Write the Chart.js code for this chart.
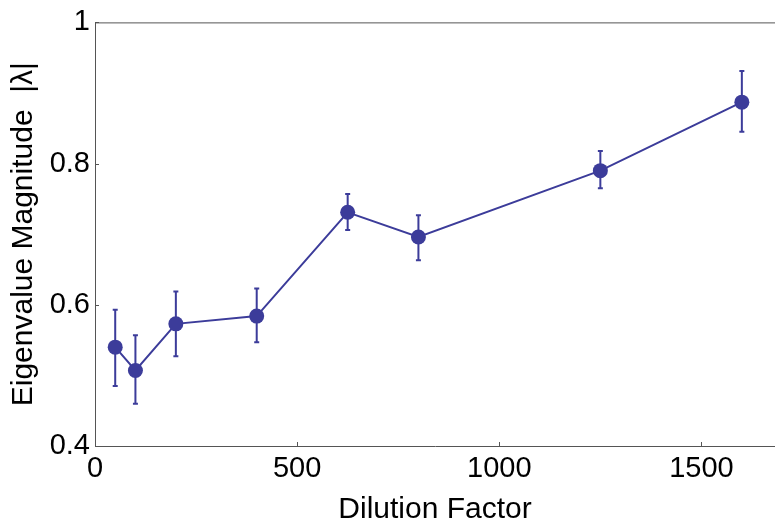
<!DOCTYPE html>
<html>
<head>
<meta charset="utf-8">
<script src="https://cdn.jsdelivr.net/npm/chart.js@4/dist/chart.umd.min.js"></script>
<style>
  html, body { margin: 0; padding: 0; background: #fff; }
  #wrap { width: 775px; height: 523px; }
</style>
</head>
<body>
<div id="wrap"><canvas id="chart"></canvas></div>
<script>
// Datos
const dilution = [50, 100, 200, 400, 625, 800, 1250, 1600];
const magnitude = [0.540, 0.507, 0.573, 0.584, 0.731, 0.696, 0.790, 0.887];
const errLow = [0.485, 0.460, 0.527, 0.547, 0.706, 0.663, 0.765, 0.845];
const errHigh = [0.593, 0.557, 0.619, 0.623, 0.757, 0.727, 0.818, 0.931];

const xTickValues = [0, 500, 1000, 1500];
const yTickValues = [0.4, 0.6, 0.8, 1];

const markColor = '#3c3c9a';
const axisColor = '#555';
const fontFamily = 'Arial, "Liberation Sans", sans-serif';

// Barras de error, marco superior y marcas hacia dentro
const extrasPlugin = {
    id: 'extras',
    beforeDatasetsDraw(chart) {
        const ctx = chart.ctx;
        const xs = chart.scales.x;
        const ys = chart.scales.y;
        const area = chart.chartArea;
        ctx.save();

        // línea superior del marco
        ctx.strokeStyle = axisColor;
        ctx.lineWidth = 1;
        ctx.beginPath();
        ctx.moveTo(area.left, area.top + 0.5);
        ctx.lineTo(area.right, area.top + 0.5);
        ctx.stroke();

        // marcas hacia dentro
        xTickValues.forEach(v => {
            const px = Math.round(xs.getPixelForValue(v)) + 0.5;
            ctx.beginPath();
            ctx.moveTo(px, area.bottom);
            ctx.lineTo(px, area.bottom - 4);
            ctx.stroke();
        });
        yTickValues.forEach(v => {
            const py = Math.round(ys.getPixelForValue(v)) + 0.5;
            ctx.beginPath();
            ctx.moveTo(area.left, py);
            ctx.lineTo(area.left + 4, py);
            ctx.stroke();
        });

        // barras de error
        ctx.strokeStyle = markColor;
        ctx.lineWidth = 2;
        dilution.forEach((d, i) => {
            const px = xs.getPixelForValue(d);
            const top = ys.getPixelForValue(errHigh[i]);
            const bot = ys.getPixelForValue(errLow[i]);
            ctx.beginPath();
            ctx.moveTo(px, top);
            ctx.lineTo(px, bot);
            ctx.moveTo(px - 2.5, top);
            ctx.lineTo(px + 2.5, top);
            ctx.moveTo(px - 2.5, bot);
            ctx.lineTo(px + 2.5, bot);
            ctx.stroke();
        });
        ctx.restore();
    }
};

const ctx = document.getElementById('chart').getContext('2d');
new Chart(ctx, {
    type: 'line',
    data: {
        datasets: [{
            data: dilution.map((d, i) => ({ x: d, y: magnitude[i] })),
            borderColor: markColor,
            backgroundColor: markColor,
            borderWidth: 2,
            pointRadius: 7.5,
            pointBorderWidth: 0,
            pointBackgroundColor: markColor,
            tension: 0
        }]
    },
    options: {
        responsive: true,
        maintainAspectRatio: false,
        animation: false,
        devicePixelRatio: 1,
        layout: { autoPadding: false, padding: { top: 20, right: 0, left: 0, bottom: 0 } },
        plugins: {
            legend: { display: false },
            tooltip: { enabled: false }
        },
        scales: {
            x: {
                type: 'linear',
                min: 0,
                max: 1682,
                grid: { display: false, drawTicks: false },
                border: { display: true, color: axisColor, width: 1 },
                afterBuildTicks: scale => { scale.ticks = xTickValues.map(v => ({ value: v })); },
                afterFit: scale => { scale.height = 77; },
                ticks: {
                    padding: 6,
                    color: '#000',
                    maxRotation: 0,
                    font: { family: fontFamily, size: 29 },
                    callback: v => String(v)
                },
                title: {
                    display: true,
                    text: 'Dilution Factor',
                    color: '#000',
                    font: { family: fontFamily, size: 30 },
                    padding: { top: 0, bottom: -5 }
                }
            },
            y: {
                min: 0.4,
                max: 1,
                grid: { display: false, drawTicks: false },
                border: { display: true, color: axisColor, width: 1 },
                afterBuildTicks: scale => { scale.ticks = yTickValues.map(v => ({ value: v })); },
                afterFit: scale => { scale.width = 95; },
                ticks: {
                    padding: 5,
                    color: '#000',
                    font: { family: fontFamily, size: 29 },
                    callback: v => String(v)
                },
                title: {
                    display: true,
                    text: 'Eigenvalue Magnitude  |λ|',
                    color: '#000',
                    font: { family: fontFamily, size: 30 },
                    padding: { top: 6, bottom: 0 }
                }
            }
        }
    },
    plugins: [extrasPlugin]
});
</script>
</body>
</html>
